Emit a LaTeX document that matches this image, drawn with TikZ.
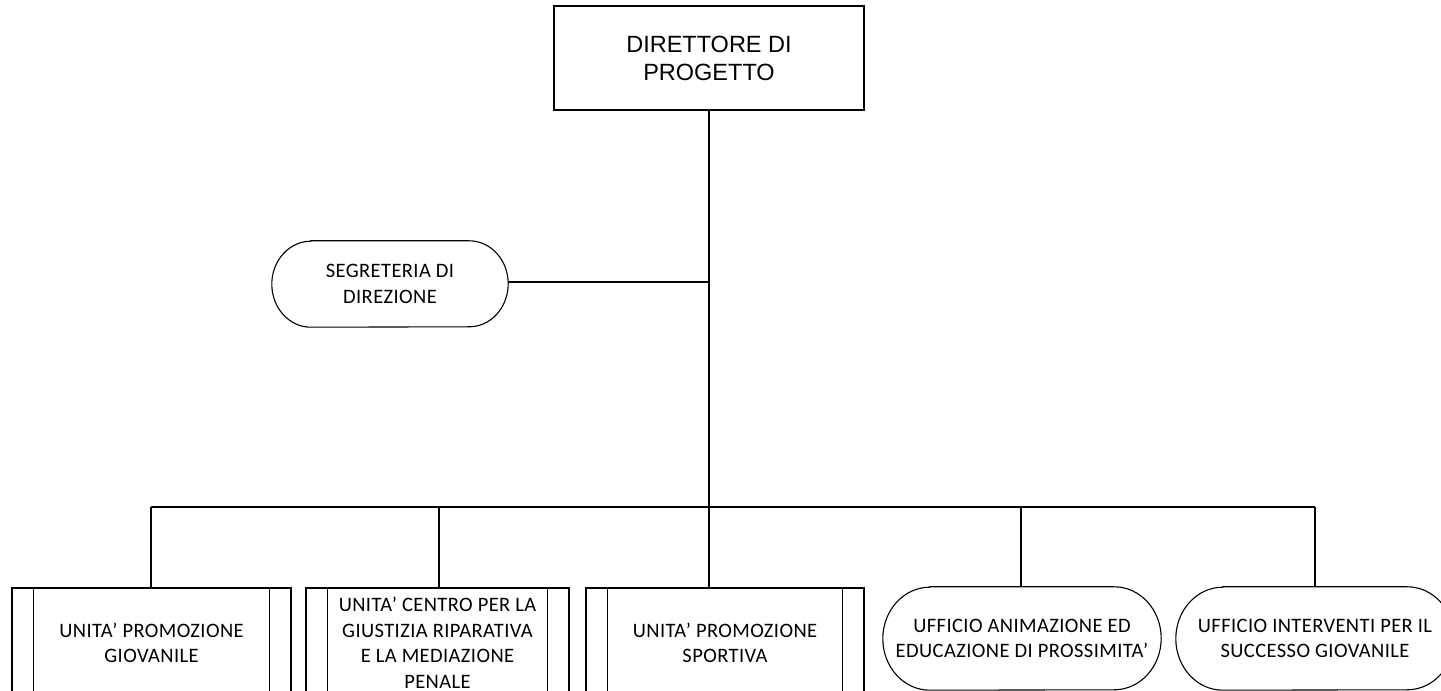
\documentclass[tikz,border=0pt]{standalone}
\usepackage{fontspec}
\setmainfont{Carlito}[LetterSpace=2]
\newfontfamily\arialf{Liberation Sans}
\tikzset{
  conn/.style={line width=1.8pt, black},
  topbox/.style={draw, line width=1.6pt, minimum width=310pt, minimum height=104pt, align=center, font=\arialf\fontsize{23.5}{28}\selectfont},
  procbox/.style={draw, line width=1.1pt, minimum height=110pt, align=center, font=\fontsize{20.5}{25.5}\selectfont},
  termtext/.style={draw=none, align=center, font=\fontsize{20.5}{25.5}\selectfont},
  termline/.style={line width=1.1pt},
}
\begin{document}
\begin{tikzpicture}[x=1pt,y=1pt]
\useasboundingbox (0,0) rectangle (1441,691);
\clip (0,0) rectangle (1441,691);
% top
\node[topbox] (dir) at (709,633) {DIRETTORE DI\\PROGETTO};
% segreteria
\node[termtext, minimum width=236pt, minimum height=86pt] (seg) at (390,407) {SEGRETERIA DI\\DIREZIONE};
\draw[termline] ([xshift=39pt]seg.north west) -- ([xshift=-39pt]seg.north east)
  arc[start angle=90,end angle=-90,x radius=39,y radius=43] -- ([xshift=39pt]seg.south west)
  arc[start angle=270,end angle=90,x radius=39,y radius=43] -- cycle;
% bottom boxes
\node[procbox, minimum width=279pt] (u1) at (151.5,48) {UNITA’ PROMOZIONE\\GIOVANILE};
\node[procbox, minimum width=263pt] (u2) at (437.5,48) {UNITA’ CENTRO PER LA\\GIUSTIZIA RIPARATIVA\\E LA MEDIAZIONE\\PENALE};
\node[procbox, minimum width=278pt] (u3) at (725,48) {UNITA’ PROMOZIONE\\SPORTIVA};
\foreach \n in {u1,u2,u3}{
  \draw[line width=1.1pt] ([xshift=22pt]\n.north west) -- ([xshift=22pt]\n.south west);
  \draw[line width=1.1pt] ([xshift=-22pt]\n.north east) -- ([xshift=-22pt]\n.south east);
}
\node[termtext, minimum width=278pt, minimum height=103pt] (f1) at (1022,52.5) {UFFICIO ANIMAZIONE ED\\EDUCAZIONE DI PROSSIMITA’};
\node[termtext, minimum width=278pt, minimum height=103pt] (f2) at (1315,52.5) {UFFICIO INTERVENTI PER IL\\SUCCESSO GIOVANILE};
\foreach \n in {f1,f2}{
  \draw[termline] ([xshift=47pt]\n.north west) -- ([xshift=-47pt]\n.north east)
    arc[start angle=90,end angle=-90,x radius=47,y radius=51.5] -- ([xshift=47pt]\n.south west)
    arc[start angle=270,end angle=90,x radius=47,y radius=51.5] -- cycle;
}
% connectors
\coordinate (segj) at (709,409);
\coordinate (bus) at (709,184);
\coordinate (b1) at (151,184);
\coordinate (b2) at (439,184);
\coordinate (b4) at (1021,184);
\coordinate (b5) at (1315,184);
\draw[conn] (dir.south) -- (bus);
\draw[conn, line width=1.4pt] (seg.east |- segj) -- (segj);
\draw[conn] (b1) -- (b5);
\draw[conn] (b1) -- (b1 |- u1.north);
\draw[conn] (b2) -- (b2 |- u2.north);
\draw[conn] (bus) -- (bus |- u3.north);
\draw[conn] (b4) -- (b4 |- f1.north);
\draw[conn] (b5) -- (b5 |- f2.north);
\end{tikzpicture}
\end{document}
